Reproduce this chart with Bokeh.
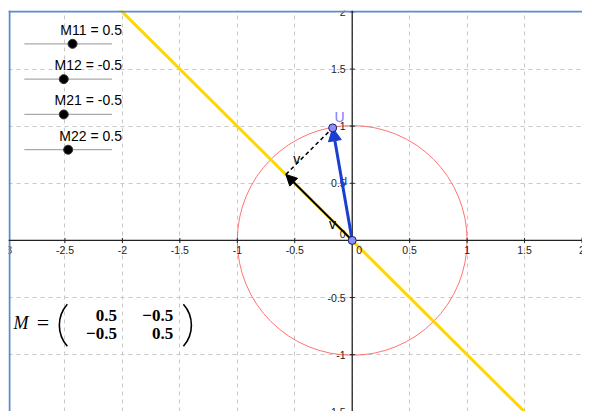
import numpy as np
from bokeh.plotting import figure
from bokeh.models import Range1d, Grid, FixedTicker, Arrow, NormalHead, Span
from bokeh.core.properties import value
from bokeh.embed import file_html
from bokeh.resources import INLINE

# ---------------- data ----------------
M11, M12, M21, M22 = 0.5, -0.5, -0.5, 0.5
slider_names = ["M11", "M12", "M21", "M22"]
slider_values = [M11, M12, M21, M22]
slider_min = [-5, -5, -5, -5]
slider_max = [5, 5, 5, 6]
u_vec = [-0.17, 0.985]
eig_dir = [1.0, -1.0]          # eigen-direction of M (yellow line)
circle_r = 1.0
grid_ticks = [-3, -2.5, -2, -1.5, -1, -0.5, 0, 0.5, 1, 1.5, 2]
x_tick_vals = [-3, -2.5, -2, -1.5, -1, -0.5, 0.5, 1, 1.5, 2]
x_tick_labels = ["-3", "-2.5", "-2", "-1.5", "-1", "-0.5", "0.5", "1", "1.5", "2"]
y_tick_vals = [-1.5, -1, -0.5, 0.5, 1, 1.5, 2]
y_tick_labels = ["-1.5", "-1", "-0.5", "0.5", "1", "1.5", "2"]
matrix_rows = [["0.5", "\u22120.5"], ["\u22120.5", "0.5"]]

# ---------------- reference-pixel mapping (px -> data) ----------------
X0, Y0, U = 356.5, 244.5, 116.5
def px2x(px):
    return (px - X0) / U
def py2y(py):
    return (Y0 - py) / U

p = figure(width=582, height=411, output_backend="svg", toolbar_location=None,
           x_range=Range1d(px2x(8), px2x(590)), y_range=Range1d(py2y(419), py2y(10)),
           x_axis_location=None, y_axis_location=None,
           min_border_left=8, min_border_right=0, min_border_bottom=0, min_border_top=10,
           background_fill_color="white", border_fill_color="white")
p.outline_line_color = None
p.grid.visible = False

for d in (0, 1):
    g = Grid(dimension=d, ticker=FixedTicker(ticks=grid_ticks),
             grid_line_color="#c8c8c8", grid_line_dash="4 4", grid_line_width=1)
    p.add_layout(g, "center")

# circle
p.circle(x=[0], y=[0], radius=circle_r, fill_color=None, line_color="#ff5050",
         line_alpha=0.8, line_width=1)

# axes lines
p.add_layout(Span(location=0, dimension="width", line_color="#222222", line_width=1.3))
p.add_layout(Span(location=0, dimension="height", line_color="#222222", line_width=1.3))
# tick marks
p.scatter(x=x_tick_vals, y=[0] * len(x_tick_vals), marker="dash", size=5, angle=np.pi / 2,
          line_color="#222222", line_width=1)
p.scatter(x=[0] * len(y_tick_vals), y=y_tick_vals, marker="dash", size=5,
          line_color="#222222", line_width=1)

# yellow eigen line
t = np.array([-5.0, 5.0])
p.line(x=t * eig_dir[0], y=t * eig_dir[1], line_color="#ffd700", line_width=3)

# tick labels
tf = value("Liberation Sans")
p.text(x=x_tick_vals, y=[0] * len(x_tick_vals), text=x_tick_labels, text_font=tf,
       text_font_size="10.5px", text_align="center", text_baseline="middle",
       y_offset=10, text_color="#222222")
p.text(x=[0] * len(y_tick_vals), y=y_tick_vals, text=y_tick_labels, text_font=tf,
       text_font_size="10.5px", text_align="right", text_baseline="middle",
       x_offset=-6.5, text_color="#222222")
p.text(x=[0], y=[0], text=["0"], text_font=tf, text_font_size="10.5px",
       text_align="center", text_baseline="middle", x_offset=7, y_offset=10, text_color="#222222")
p.text(x=[0], y=[0], text=["0"], text_font=tf, text_font_size="10.5px",
       text_align="right", text_baseline="middle", x_offset=-6.5, y_offset=-6, text_color="#222222")

# vectors
ux, uy = u_vec
vx = M11 * ux + M12 * uy
vy = M21 * ux + M22 * uy

p.line(x=[vx, ux], y=[vy, uy], line_color="black", line_width=1.5, line_dash="4 3")
p.add_layout(Arrow(x_start=0, y_start=0, x_end=vx, y_end=vy, line_color="black", line_width=2,
                   end=NormalHead(size=11, fill_color="black", line_color="black")))
p.add_layout(Arrow(x_start=0, y_start=0, x_end=ux, y_end=uy, line_color="#1a3fd0", line_width=3,
                   end=NormalHead(size=13, fill_color="#1a3fd0", line_color="#1a3fd0")))

pts = p.scatter(x=[0, ux], y=[0, uy], size=8, fill_color="#8c8cff", line_color="#1a1a66",
                line_width=1)
pts.level = "overlay"

# vector labels
lbl = p.text(x=[ux, vx, vx * 0.25, ux * 0.2],
             y=[uy, vy, vy * 0.25, uy * 0.55],
             text=["U", "v", "v", "u"],
             text_color=["#7a7aff", "black", "black", "#1a3fd0"],
             x_offset=[7, 11, -3, -5], y_offset=[-11, -15, 0, 1],
             text_font=tf, text_font_size="14px", text_align="center", text_baseline="middle")
lbl.level = "overlay"

# sliders
line_x0, line_x1 = px2x(24), px2x(113)
slider_line_py = [44, 80, 116, 152]
for i, name in enumerate(slider_names):
    yy = py2y(slider_line_py[i])
    p.line(x=[line_x0, line_x1], y=[yy, yy], line_color="#aaaaaa", line_width=1.3)
    frac = (slider_values[i] - slider_min[i]) / (slider_max[i] - slider_min[i])
    kx = line_x0 + frac * (line_x1 - line_x0)
    p.scatter(x=[kx], y=[yy], size=9, fill_color="black", line_color="#333333")
    val = slider_values[i]
    p.text(x=[px2x(123)], y=[yy], text=[f"{name} = {val:g}"], text_font=tf,
           text_font_size="14px", text_align="right", text_baseline="middle",
           y_offset=-14, text_color="black")

# matrix formula
sf = value("Liberation Serif")
p.text(x=[px2x(13)], y=[py2y(329)], text=["M"], text_font=sf, text_font_style="italic",
       text_font_size="18px", text_align="left", text_baseline="middle")
p.text(x=[px2x(43)], y=[py2y(328)], text=["="], text_font=sf,
       text_font_size="22px", text_align="center", text_baseline="middle")
# big parentheses as thin arcs
half = np.arcsin(21 / 31.6)
p.arc(x=[px2x(60 + 31.6)], y=[py2y(331)], radius=31.6, radius_units="screen",
      start_angle=np.pi - half, end_angle=np.pi + half, line_color="black", line_width=1.6)
p.arc(x=[px2x(193 - 31.6)], y=[py2y(331)], radius=31.6, radius_units="screen",
      start_angle=-half, end_angle=half, line_color="black", line_width=1.6)
col_right = [118, 175]
row_py = [321, 339]
for r in range(2):
    for c in range(2):
        p.text(x=[px2x(col_right[c])], y=[py2y(row_py[r])], text=[matrix_rows[r][c]],
               text_font=sf, text_font_style="bold", text_font_size="17px",
               text_align="right", text_baseline="middle")

# blue frame edges (top, left)
xr0, xr1 = p.x_range.start, p.x_range.end
yr0, yr1 = p.y_range.start, p.y_range.end
edge = 1.0 / U
p.line(x=[xr0, xr1], y=[yr1 - edge, yr1 - edge], line_color="#5b8bd0", line_width=2)
p.line(x=[xr0 + edge, xr0 + edge], y=[yr0, yr1], line_color="#5b8bd0", line_width=2)

open("out.html", "w").write(file_html(p, INLINE))
